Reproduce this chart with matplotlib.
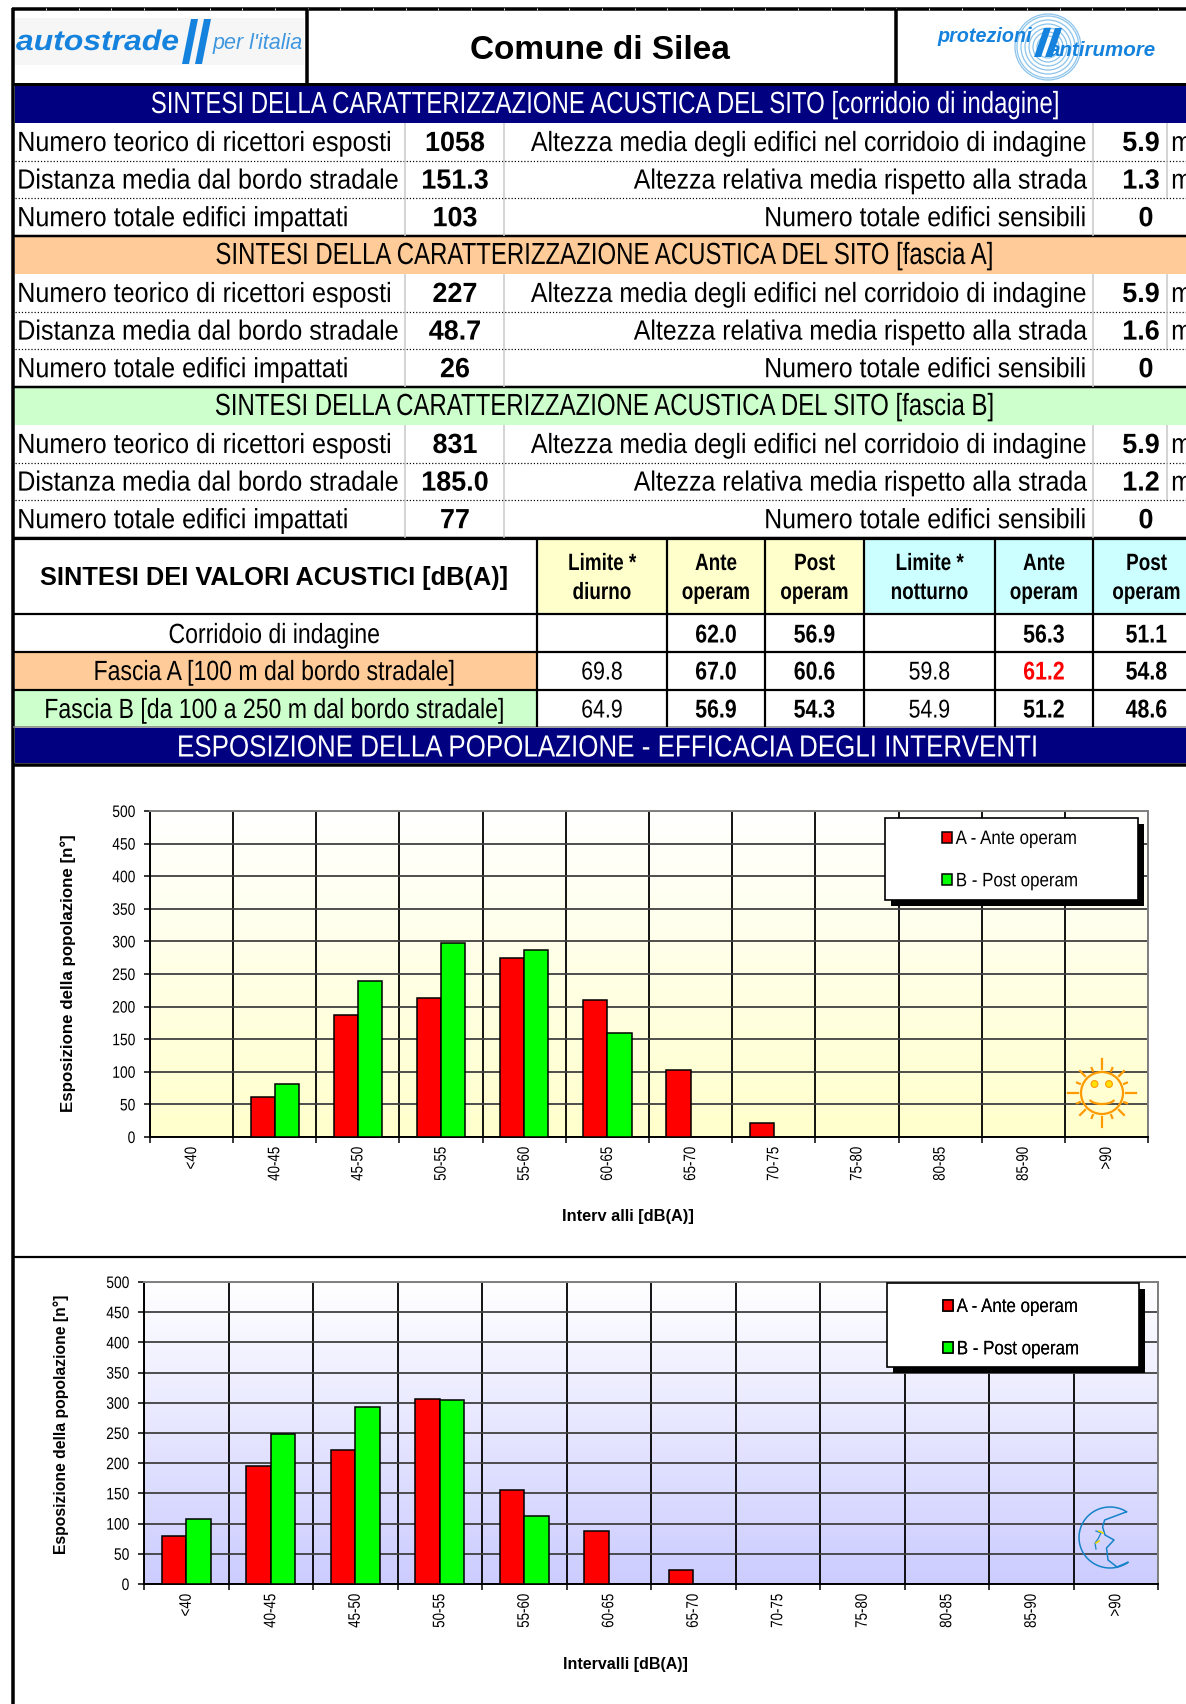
import numpy as np
import matplotlib
matplotlib.use('Agg')
import matplotlib.pyplot as plt
import matplotlib.patheffects as pe
from matplotlib.patches import Rectangle, Circle, Polygon
from matplotlib.transforms import Affine2D

W, H = 1186, 1704
SANS = 'Liberation Sans'
BLUE = '#1583dd'

# data
bands = ['SINTESI DELLA CARATTERIZZAZIONE ACUSTICA DEL SITO [corridoio di indagine]',
         'SINTESI DELLA CARATTERIZZAZIONE ACUSTICA DEL SITO [fascia A]',
         'SINTESI DELLA CARATTERIZZAZIONE ACUSTICA DEL SITO [fascia B]']
band_fill = ['#000080', '#FFCC99', '#CCFFCC']
band_text = ['white', 'black', 'black']
left_labels = ['Numero teorico di ricettori esposti', 'Distanza media dal bordo stradale',
               'Numero totale edifici impattati']
right_labels = ['Altezza media degli edifici nel corridoio di indagine',
                'Altezza relativa media rispetto alla strada', 'Numero totale edifici sensibili']
left_values = [['1058', '151.3', '103'], ['227', '48.7', '26'], ['831', '185.0', '77']]
right_values = [['5.9', '1.3', '0'], ['5.9', '1.6', '0'], ['5.9', '1.2', '0']]

head_cols = [['Limite *', 'diurno'], ['Ante', 'operam'], ['Post', 'operam'],
             ['Limite *', 'notturno'], ['Ante', 'operam'], ['Post', 'operam']]
row_names = ['Corridoio di indagine', 'Fascia A [100 m dal bordo stradale]',
             'Fascia B [da 100 a 250 m dal bordo stradale]']
acoustic = [['', '62.0', '56.9', '', '56.3', '51.1'],
            ['69.8', '67.0', '60.6', '59.8', '61.2', '54.8'],
            ['64.9', '56.9', '54.3', '54.9', '51.2', '48.6']]

intervals = ['<40', '40-45', '45-50', '50-55', '55-60', '60-65', '65-70', '70-75', '75-80', '80-85', '85-90', '>90']
day_ante = [0, 61, 187, 213, 274, 210, 103, 21, 0, 0, 0, 0]
day_post = [0, 82, 240, 297, 287, 160, 0, 0, 0, 0, 0, 0]
night_ante = [79, 196, 222, 307, 156, 88, 23, 0, 0, 0, 0, 0]
night_post = [108, 248, 293, 304, 113, 0, 0, 0, 0, 0, 0, 0]

fig = plt.figure(figsize=(W / 100, H / 100), dpi=100, facecolor='white')


class Squeeze(pe.AbstractPathEffect):
    """Narrows a text along its baseline, the reference font is a condensed one."""

    def __init__(self, fx, anchor=0.5):
        super().__init__()
        self.fx = fx
        self.anchor = anchor

    def draw_path(self, renderer, gc, tpath, affine, rgbFace=None):
        ext = tpath.get_extents()
        x = ext.x0 + self.anchor * ext.width
        local = Affine2D().translate(-x, 0).scale(self.fx, 1).translate(x, 0)
        renderer.draw_path(gc, tpath, local + affine, rgbFace)


def px_axes(z):
    a = fig.add_axes([0, 0, 1, 1], zorder=z)
    a.set_xlim(0, W)
    a.set_ylim(H, 0)
    a.axis('off')
    a.patch.set_alpha(0)
    return a


page = px_axes(0)
deco = px_axes(5)
ANCHOR = {'left': 0, 'center': 0.5, 'right': 1}


def put(x, y, s, size, ha='center', weight='normal', color='black', style='normal', a=page, fx=1.0):
    t = a.text(x, y, s, fontsize=size, ha=ha, va='center_baseline', fontweight=weight, color=color,
               family=[SANS, 'DejaVu Sans'], fontstyle=style, zorder=6)
    if fx != 1.0:
        t.set_path_effects([Squeeze(fx, ANCHOR[ha])])
    return t


def box(x0, y0, x1, y1, color, a=page, z=1):
    a.add_patch(Rectangle((x0, y0), x1 - x0, y1 - y0, fc=color, ec='none', zorder=z))


def hline(y, x0=13, x1=W, lw=2, color='black', ls='-'):
    page.plot([x0, x1], [y, y], color=color, lw=lw * 0.72, ls=ls, zorder=3, solid_capstyle='butt')


def vline(x, y0, y1, lw=2, color='black'):
    page.plot([x, x], [y0, y1], color=color, lw=lw * 0.72, zorder=3, solid_capstyle='butt')


# header
hline(9, 12, W, 3.5)
for i in range(35):
    vline(46 + i * 32.7, 8, 10, 1, '#dddddd')
vline(13, 8, H, 3.5)
vline(307, 9, 84, 3.5)
vline(896, 9, 84, 3.5)
hline(84, 13, W, 3)
put(600, 47, 'Comune di Silea', 24, weight='bold')

box(15, 18, 304, 65, '#f6f6f6')
put(16, 40, 'autostrade', 20.5, ha='left', weight='bold', style='italic', color=BLUE, fx=1.12)
for dx in (0, 13):
    page.add_patch(Polygon([[182 + dx, 64], [189 + dx, 64], [198 + dx, 19], [191 + dx, 19]], fc=BLUE, ec='none', zorder=2))
put(213, 41, "per l'italia", 15.5, ha='left', style='italic', color='#3f97e0')

for r in (11, 15, 19, 23, 27, 31, 33):
    page.add_patch(Circle((1048, 47), r, fc='none', ec='#8cc4ec', lw=0.9, zorder=2))
for dx in (0, 11):
    page.add_patch(Polygon([[1034 + dx, 57], [1041 + dx, 57], [1051 + dx, 28], [1044 + dx, 28]], fc=BLUE, ec='none', zorder=4))
put(937, 35, 'protezioni', 14.2, ha='left', weight='bold', style='italic', color=BLUE, a=deco)
put(1049, 49, 'antirumore', 14.8, ha='left', weight='bold', style='italic', color=BLUE, a=deco)

# three site blocks
for b in range(3):
    top = 85 + 151 * b
    box(15, top, W, top + 37.5, band_fill[b])
    put(604, top + 16.5, bands[b], 22, color=band_text[b], fx=0.785)
    for i in range(3):
        cy = top + 56 + i * 37.6
        put(17, cy, left_labels[i], 20, ha='left', fx=0.905)
        put(455, cy, left_values[b][i], 20, weight='bold', fx=0.97)
        put(1086, cy, right_labels[i], 20, ha='right', fx=0.895)
        put(1146 if right_values[b][i] == '0' else 1141, cy, right_values[b][i], 20, weight='bold', fx=0.97)
        if i < 2:
            put(1171, cy, 'm', 20, ha='left', fx=0.89)
    for i in (1, 2):
        hline(top + 38 + i * 37.6, 15, W, 1.2, 'black', ':')
    hline(top + 151, 13, W, 2.5)
    for x in (405, 504, 1093):
        vline(x, top + 38, top + 151, 1.5, '#c8c8c8')
    vline(1167, top + 38, top + 113, 1.5, '#c8c8c8')

# acoustic table
col_x = [537, 667, 765, 864, 995, 1093, 1200]
box(538, 539, 864, 613, '#FFFFCC')
box(864, 539, W, 613, '#CCFFFF')
box(15, 652, 537, 689, '#FFCC99')
box(15, 690, 537, 727, '#CCFFCC')
put(274, 575, 'SINTESI DEI VALORI ACUSTICI [dB(A)]', 18.3, weight='bold')
row_y = [633, 670, 708]
for c in range(6):
    cx = (col_x[c] + col_x[c + 1]) / 2
    put(cx, 561, head_cols[c][0], 17, weight='bold', fx=0.8)
    put(cx, 590, head_cols[c][1], 17, weight='bold', fx=0.8)
    for r in range(3):
        txt = acoustic[r][c]
        if not txt:
            continue
        limit = c in (0, 3)
        col = 'red' if txt == '61.2' else 'black'
        put(cx, row_y[r], txt, 18.5, weight='normal' if limit else 'bold', color=col, fx=0.83)
for r in range(3):
    put(274, row_y[r], row_names[r], 20, fx=0.83)
for y in (538.5, 613.5, 651.5, 689.5):
    hline(y, 13, W, 2.2)
hline(727, 13, W, 1.5, '#808080')
for x in col_x[:-1]:
    vline(x, 538, 727, 2.2)
box(15, 728, W, 763, '#000080')
put(607, 745, 'ESPOSIZIONE DELLA POPOLAZIONE - EFFICACIA DEGLI INTERVENTI', 22, color='white', fx=0.85)
hline(765, 13, W, 3.5)
hline(1257, 13, W, 2.2)


def chart(x0, y0, x1, y1, ante, post, bottom_rgb, xl_pos, yl_pos, xl_size, yl_size, xl_text, yl_text):
    ax = fig.add_axes([x0 / W, 1 - y1 / H, (x1 - x0) / W, (y1 - y0) / H], zorder=2)
    n = len(intervals)
    grad = np.linspace(0, 1, 256)[:, None, None] * (np.array(bottom_rgb) - 1) + 1
    ax.imshow(grad, extent=[-0.5, n - 0.5, 0, 500], aspect='auto', origin='upper', zorder=0)
    xs = np.arange(n)
    ante = np.array(ante)
    post = np.array(post)
    w = 0.29
    kw = dict(edgecolor='black', linewidth=1.1, zorder=3)
    ra = ax.bar(xs[ante > 0] - w / 2, ante[ante > 0], w, color='#FF0000', label='A - Ante operam', **kw)
    rb = ax.bar(xs[post > 0] + w / 2, post[post > 0], w, color='#00FF00', label='B - Post operam', **kw)
    ax.set_xlim(-0.5, n - 0.5)
    ax.set_ylim(0, 500)
    ax.set_yticks(np.arange(0, 501, 50))
    ax.set_xticks(np.arange(n + 1) - 0.5)
    ax.set_xticklabels([])
    ax.set_xticks(xs, minor=True)
    ax.set_xticklabels(intervals, minor=True, rotation=90, fontsize=12, family=SANS, va='top')
    for t in ax.get_xticklabels(minor=True):
        t.set_path_effects([Squeeze(0.8, 1)])
    ax.tick_params(axis='x', which='minor', length=0, pad=7)
    ax.tick_params(axis='x', which='major', length=4, width=1.1, color='black')
    ax.tick_params(axis='y', length=4, width=1.1, color='black', pad=6.5)
    for t in ax.get_yticklabels():
        t.set_fontsize(12)
        t.set_family(SANS)
        t.set_path_effects([Squeeze(0.83, 1)])
    ax.grid(axis='y', color='#404040', lw=1.3, zorder=1)
    ax.grid(axis='x', color='black', lw=1.3, zorder=1)
    ax.set_axisbelow(True)
    for side in ('top', 'right'):
        ax.spines[side].set_color('#808080')
        ax.spines[side].set_linewidth(1.4)
    for side in ('left', 'bottom'):
        ax.spines[side].set_color('black')
        ax.spines[side].set_linewidth(1.4)
    ax.set_xlabel(xl_text, fontsize=xl_size, fontweight='bold', family=SANS, va='center')
    ax.xaxis.set_label_coords(xl_pos[0], xl_pos[1], transform=deco.transData)
    ax.set_ylabel(yl_text, fontsize=yl_size, fontweight='bold', family=SANS, va='center')
    ax.yaxis.set_label_coords(yl_pos[0], yl_pos[1], transform=deco.transData)
    return ra, rb


def legend_box(x0, y0, x1, y1, handles, anchor):
    deco.add_patch(Rectangle((x0 + 6, y0 + 6), x1 - x0, y1 - y0, fc='black', ec='none', zorder=1))
    deco.add_patch(Rectangle((x0, y0), x1 - x0, y1 - y0, fc='white', ec='black', lw=1.2, zorder=2))
    leg = deco.legend(handles, [h.get_label() for h in handles], frameon=False, loc='upper left',
                      bbox_to_anchor=anchor, bbox_transform=deco.transData, borderpad=0, borderaxespad=0,
                      labelspacing=1.3, handlelength=0.5, handleheight=0.5, handletextpad=0.2,
                      prop={'family': SANS, 'size': 14})
    for t in leg.get_texts():
        t.set_path_effects([Squeeze(0.87, 0)])
    leg.set_zorder(3)
    deco.add_artist(leg)


h1 = chart(150, 811, 1148, 1137, day_ante, day_post, (1, 1, 0.8), (628, 1216), (68.5, 973), 11.8, 12.2,
           'Interv alli [dB(A)]', 'Esposizione della popolazione [n°]')
h2 = chart(144, 1282, 1158, 1584, night_ante, night_post, (0.8, 0.8, 1), (625, 1665), (61, 1424), 11.5, 11.3,
           'Intervalli [dB(A)]', 'Esposizione della popolazione [n°]')
legend_box(885, 818, 1138, 900, h1, (942, 831))
legend_box(887, 1283, 1139, 1367, h2, (943, 1299))

# sun
sc = (1102, 1093)
deco.add_patch(Circle(sc, 21, fc='none', ec='#FF9900', lw=1.6))
for i in range(16):
    ang = 2 * np.pi * i / 16
    r1 = 34 if i % 4 == 0 else (31 if i % 2 == 0 else 27)
    deco.plot([sc[0] + 24 * np.cos(ang), sc[0] + r1 * np.cos(ang)],
              [sc[1] + 24 * np.sin(ang), sc[1] + r1 * np.sin(ang)], color='#FF9900', lw=1.6)
for dx in (-7.5, 7):
    deco.add_patch(Circle((sc[0] + dx, sc[1] - 9), 3.4, fc='#FFE000', ec='#FF9900', lw=0.8))
t = np.linspace(0.15, 0.85, 20) * np.pi
deco.plot(sc[0] + 13 * np.cos(t), sc[1] + 5 + 6 * np.sin(t), color='#FF9900', lw=1.6)

# moon
mc = (1110, 1537.5)
t = np.linspace(-0.32, -1.7, 60) * np.pi
mx = list(mc[0] + 31 * np.cos(t))
my = list(mc[1] + 30.5 * np.sin(t))
mx += [1117, 1108, 1106.5, 1114, 1105, 1102.6, 1104.6, 1126]
my += [1567, 1560, 1548, 1540, 1535, 1527, 1520, 1512]
deco.plot(mx, my, color='#1583c8', lw=1.1)
deco.plot([1096, 1101, 1098, 1095, 1096], [1531, 1533, 1539, 1543, 1549], color='#1583c8', lw=0.9)
deco.plot([1096, 1099], [1543, 1541], color='#E6D800', lw=1.2)
deco.plot([1099, 1103], [1531, 1533], color='#E6D800', lw=1.2)

fig.savefig('out.png', dpi=100)
